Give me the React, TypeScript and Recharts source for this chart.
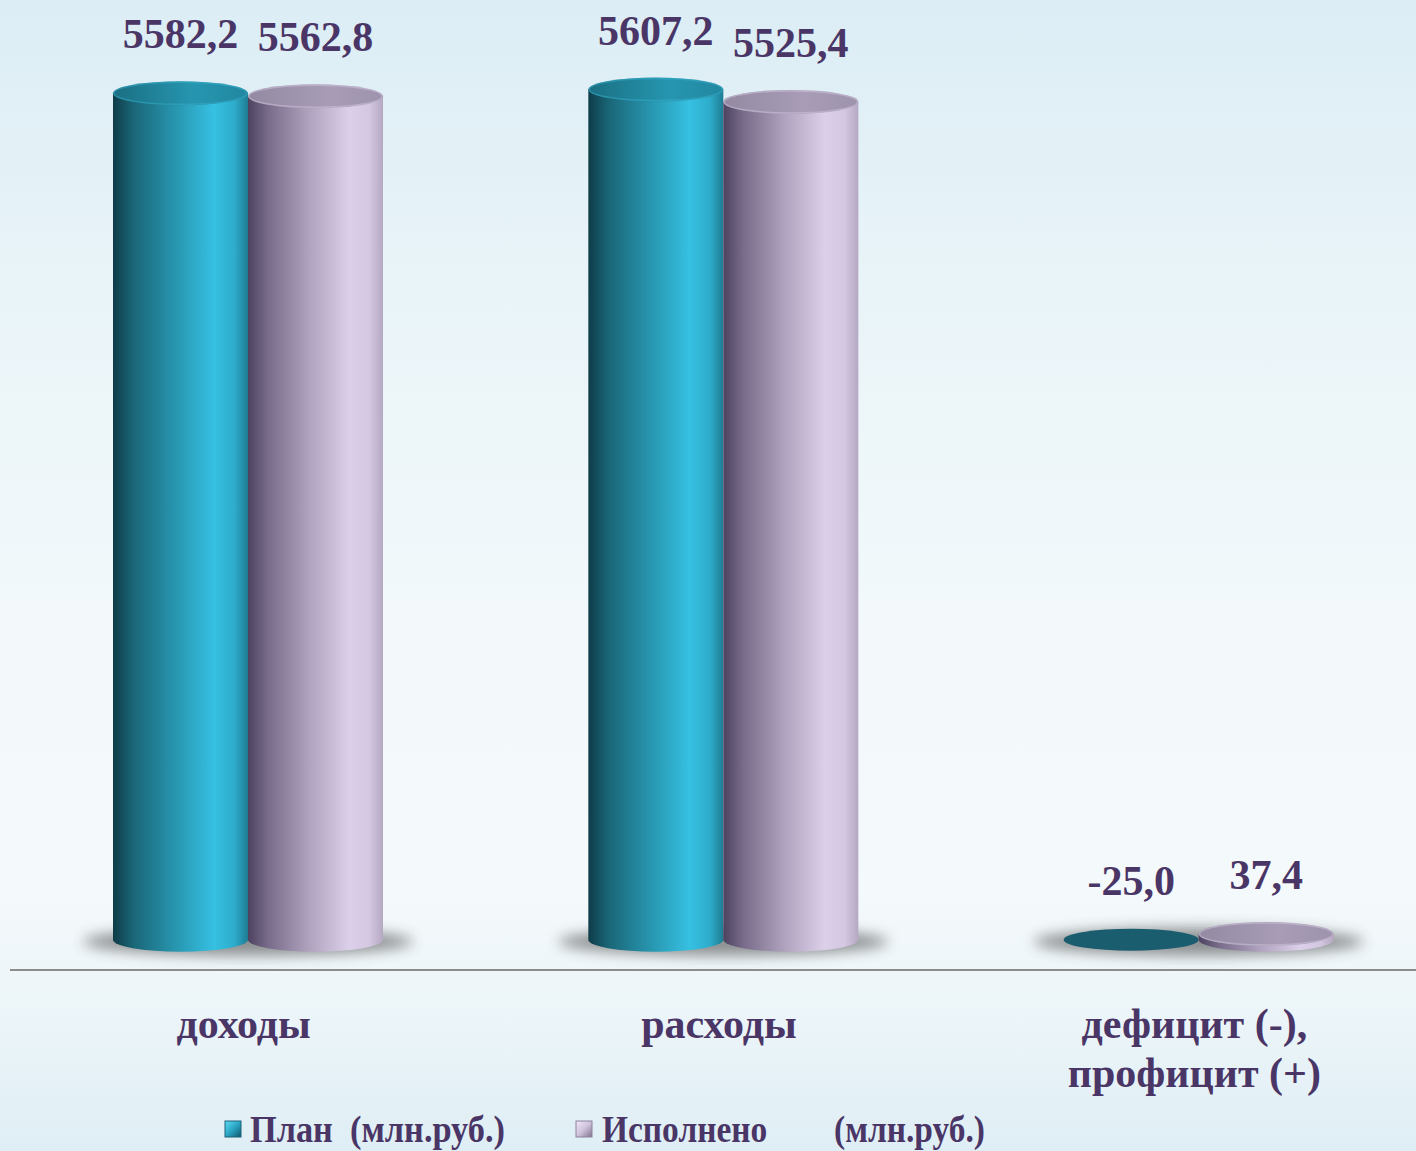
import React from "react";
import { BarChart, Bar, XAxis, YAxis, Legend, LabelList } from "recharts";

// values in млн.руб.
const categories = ["доходы", "расходы", "дефицит (-),\nпрофицит (+)"];
const planValues = [5582.2, 5607.2, -25.0];
const doneValues = [5562.8, 5525.4, 37.4];
const seriesNames = ["План  (млн.руб.)", "Исполнено        (млн.руб.)"];

const data = categories.map((name, i) => ({
  name,
  plan: planValues[i],
  done: doneValues[i],
}));

const TEXT = "#4a3666";
const FONT = '"Times New Roman", "Liberation Serif", serif';
const RY = 12;

function fmt(v: number) {
  return v.toFixed(1).replace(".", ",");
}

function span(props: any) {
  const { y, height, value } = props;
  const a = Math.min(y, y + height);
  const b = Math.max(y, y + height);
  const neg = Array.isArray(value) ? value[1] < value[0] : value < 0;
  return neg ? { top: a, zero: a, neg } : { top: a, zero: b, neg };
}

function Cylinder(props: any) {
  const { x, width, kind, withShadow } = props;
  const { top, zero, neg } = span(props);
  const cx = x + width / 2;
  const rx = width / 2;
  const shadow = withShadow ? (
    <ellipse
      cx={x + width}
      cy={zero + 2}
      rx={width + 30}
      ry={RY + 2}
      fill="#3a3a3a"
      opacity={0.55}
      filter="url(#blurShadow)"
    />
  ) : null;
  if (neg) {
    return (
      <g>
        {shadow}
        <ellipse cx={cx} cy={zero} rx={rx} ry={RY - 1} fill="#1a5d6e" />
      </g>
    );
  }
  const body = `M${x},${top} L${x},${zero} A${rx},${RY} 0 0 0 ${x + width},${zero} L${x + width},${top} Z`;
  return (
    <g>
      {shadow}
      <path d={body} fill={`url(#body-${kind})`} />
      <ellipse cx={cx} cy={top} rx={rx} ry={RY} fill={`url(#top-${kind})`} />
      <ellipse
        cx={cx}
        cy={top}
        rx={rx - 1}
        ry={RY - 1}
        fill="none"
        stroke={kind === "plan" ? "#3cb4d0" : "#d8cce4"}
        strokeOpacity={0.45}
        strokeWidth={1.5}
      />
    </g>
  );
}

function ValueLabel(props: any) {
  const { x, width, value } = props;
  const { top } = span(props);
  return (
    <text
      x={x + width / 2}
      y={top - 45}
      textAnchor="middle"
      fill={TEXT}
      fontFamily={FONT}
      fontWeight="bold"
      fontSize={42}
    >
      {fmt(Number(value))}
    </text>
  );
}

function CategoryTick(props: any) {
  const { x, y, payload } = props;
  const lines = String(payload.value).split("\n");
  return (
    <g>
      {lines.map((ln: string, i: number) => (
        <text
          key={i}
          x={x - 4}
          y={y + 60 + i * 49}
          textAnchor="middle"
          fill={TEXT}
          fontFamily={FONT}
          fontWeight="bold"
          fontSize={42}
        >
          {ln}
        </text>
      ))}
    </g>
  );
}

function LegendBox() {
  return (
    <svg width={1416} height={44}>
      <defs>
        <linearGradient id="lg-plan" x1="0" y1="0" x2="1" y2="1">
          <stop offset="0%" stopColor="#5fd8f4" />
          <stop offset="50%" stopColor="#2aa6c4" />
          <stop offset="100%" stopColor="#12566a" />
        </linearGradient>
        <linearGradient id="lg-done" x1="0" y1="0" x2="1" y2="1">
          <stop offset="0%" stopColor="#f0e8f6" />
          <stop offset="50%" stopColor="#cfc3dc" />
          <stop offset="100%" stopColor="#7e7290" />
        </linearGradient>
      </defs>
      <rect x={225} y={13} width={16} height={16} fill="url(#lg-plan)" stroke="#1a6579" strokeWidth={1} />
      <text
        x={250}
        y={34}
        fill={TEXT}
        fontFamily={FONT}
        fontWeight="bold"
        fontSize={38}
        textLength={255}
        lengthAdjust="spacingAndGlyphs"
        style={{ whiteSpace: "pre" }}
      >
        {seriesNames[0]}
      </text>
      <rect x={576} y={13} width={16} height={16} fill="url(#lg-done)" stroke="#8e829e" strokeWidth={1} />
      <text
        x={602}
        y={34}
        fill={TEXT}
        fontFamily={FONT}
        fontWeight="bold"
        fontSize={38}
        textLength={383}
        lengthAdjust="spacingAndGlyphs"
        style={{ whiteSpace: "pre" }}
      >
        {seriesNames[1]}
      </text>
    </svg>
  );
}

export default function App() {
  return (
    <div
      style={{
        position: "absolute",
        left: 0,
        top: 0,
        width: 1416,
        height: 1151,
        overflow: "hidden",
        background:
          "linear-gradient(180deg, #dcedf5 0%, #e9f4f8 25%, #f3f9fb 55%, #f4f9fb 78%, #eaf4f8 90%, #dfeef5 100%)",
      }}
    >
      <BarChart
        width={1436}
        height={1151}
        data={data}
        margin={{ top: 30, right: 0, left: 10, bottom: 61 }}
        barSize={135}
        barGap={0}
      >
        <defs>
          <filter id="blurShadow" x="-50%" y="-200%" width="200%" height="500%">
            <feGaussianBlur stdDeviation="7" />
          </filter>
          <linearGradient id="body-plan" x1="0" y1="0" x2="1" y2="0">
            <stop offset="0%" stopColor="#0e3c48" />
            <stop offset="15%" stopColor="#1a6677" />
            <stop offset="45%" stopColor="#2794ad" />
            <stop offset="75%" stopColor="#36c0e2" />
            <stop offset="90%" stopColor="#2eaccb" />
            <stop offset="100%" stopColor="#1e7c93" />
          </linearGradient>
          <linearGradient id="top-plan" x1="0" y1="0" x2="1" y2="0">
            <stop offset="0%" stopColor="#1a6f82" />
            <stop offset="60%" stopColor="#2696b0" />
            <stop offset="100%" stopColor="#2287a0" />
          </linearGradient>
          <linearGradient id="body-done" x1="0" y1="0" x2="1" y2="0">
            <stop offset="0%" stopColor="#4d4360" />
            <stop offset="15%" stopColor="#786c8a" />
            <stop offset="45%" stopColor="#aea2be" />
            <stop offset="75%" stopColor="#dbcfe9" />
            <stop offset="90%" stopColor="#d3c7e1" />
            <stop offset="100%" stopColor="#b4a8c3" />
          </linearGradient>
          <linearGradient id="top-done" x1="0" y1="0" x2="1" y2="0">
            <stop offset="0%" stopColor="#938aa2" />
            <stop offset="60%" stopColor="#a89cb6" />
            <stop offset="100%" stopColor="#9e93ac" />
          </linearGradient>
        </defs>
        <XAxis
          dataKey="name"
          height={120}
          tickLine={false}
          axisLine={{ stroke: "#8c8c8c", strokeWidth: 2 }}
          tick={<CategoryTick />}
          interval={0}
        />
        <YAxis hide domain={[-200, 6000]} />
        <Legend
          verticalAlign="middle"
          layout="horizontal"
          wrapperStyle={{ position: "absolute", top: 1108, left: 0, width: 1416, height: 44 }}
          content={() => <LegendBox />}
        />
        <Bar
          dataKey="plan"
          name={seriesNames[0]}
          isAnimationActive={false}
          shape={(p: any) => <Cylinder {...p} kind="plan" withShadow />}
        >
          <LabelList dataKey="plan" content={<ValueLabel />} />
        </Bar>
        <Bar
          dataKey="done"
          name={seriesNames[1]}
          isAnimationActive={false}
          shape={(p: any) => <Cylinder {...p} kind="done" />}
        >
          <LabelList dataKey="done" content={<ValueLabel />} />
        </Bar>
      </BarChart>
    </div>
  );
}
